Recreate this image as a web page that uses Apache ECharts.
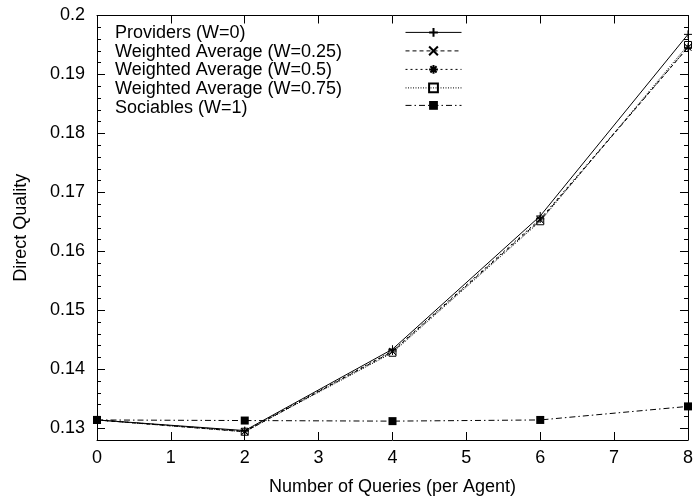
<!DOCTYPE html>
<html><head><meta charset="utf-8">
<script src="https://cdn.jsdelivr.net/npm/echarts@6/dist/echarts.min.js"></script>
<style>html,body{margin:0;padding:0;background:#fff}#c{width:696px;height:501px}</style>
</head><body><div id="c"></div>
<script>
const xValues = [0, 2, 4, 6, 8];
const providers = [0.1314, 0.1296, 0.1434, 0.1660, 0.1968];
const wa025 = [0.1314, 0.1294, 0.1430, 0.1653, 0.1946];
const wa05 = [0.1314, 0.1295, 0.1431, 0.1655, 0.1946];
const wa075 = [0.1314, 0.1294, 0.1428, 0.1651, 0.1950];
const sociables = [0.1314, 0.1313, 0.1312, 0.1314, 0.1337];
const seriesNames = ['Providers (W=0)', 'Weighted Average (W=0.25)', 'Weighted Average (W=0.5)', 'Weighted Average (W=0.75)', 'Sociables (W=1)'];
const yLabels = [0.13, 0.14, 0.15, 0.16, 0.17, 0.18, 0.19, 0.2];
const yMinor = [0.13,0.132,0.134,0.136,0.138,0.14,0.142,0.144,0.146,0.148,0.15,0.152,0.154,0.156,0.158,0.16,0.162,0.164,0.166,0.168,0.17,0.172,0.174,0.176,0.178,0.18,0.182,0.184,0.186,0.188,0.19,0.192,0.194,0.196,0.198];

const FONT = 'Liberation Sans, Arial, Helvetica, sans-serif';
const FS = 18;
const pair = arr => xValues.map((x, i) => [x, arr[i]]);

const plus = 'path://M0,5L10,5M5,0L5,10';
const cross = 'path://M1,1L9,9M9,1L1,9';
const star = 'path://M0,5L10,5M5,0L5,10M1.5,1.5L8.5,8.5M8.5,1.5L1.5,8.5';
const sq = 'path://M0,0L10,0L10,10L0,10Z';

function mk(name, arr, symbol, dash, filled, size) {
  return {
    name, type: 'line', data: pair(arr), symbol, symbolSize: size,
    showSymbol: true, animation: false,
    lineStyle: { color: '#000', width: 1, type: dash },
    itemStyle: filled ? { color: '#000', borderColor: '#000', borderWidth: 0 }
                      : { color: 'rgba(0,0,0,0)', borderColor: '#000', borderWidth: 1 },
    emphasis: { disabled: true },
    z: 3
  };
}

const series = [
  mk(seriesNames[0], providers, plus, 'solid', false, 8),
  mk(seriesNames[1], wa025, cross, [4, 3], false, 7),
  mk(seriesNames[2], wa05, star, [2, 3], false, 8),
  mk(seriesNames[3], wa075, sq, [1, 1.5], false, 7),
  mk(seriesNames[4], sociables, sq, [6, 3, 1.5, 3], true, 8)
];

const axLine = { show: true, lineStyle: { color: '#000', width: 1 } };
const yBase = { type: 'value', min: 0.128, max: 0.2, splitLine: { show: false } };

const option = {
  backgroundColor: '#fff',
  animation: false,
  grid: { left: 97, right: 5, top: 15.5, bottom: 60, containLabel: false },
  legend: [
    { orient: 'vertical', left: 105, top: 19, itemWidth: 0, itemHeight: 0, itemGap: 0.7,
      icon: 'none', data: seriesNames, selectedMode: false,
      textStyle: { fontFamily: FONT, fontSize: FS, color: '#000', lineHeight: 18 } },
    { orient: 'vertical', left: 400, top: 22, itemWidth: 56, itemHeight: 11, itemGap: 7.7,
      data: seriesNames, selectedMode: false, formatter: () => '',
      lineStyle: { width: 1 },
      textStyle: { fontSize: 8, lineHeight: 8 } }
  ],
  xAxis: [
    { type: 'value', min: 0, max: 8, interval: 1, position: 'bottom',
      name: 'Number of Queries (per Agent)', nameLocation: 'middle', nameGap: 38,
      nameTextStyle: { fontFamily: FONT, fontSize: FS, color: '#000' },
      axisLine: axLine, splitLine: { show: false },
      axisTick: { show: true, inside: true, length: 8, lineStyle: { color: '#000' } },
      axisLabel: { fontFamily: FONT, fontSize: FS, color: '#000', margin: 9 } },
    { type: 'value', min: 0, max: 8, interval: 1, position: 'top',
      axisLine: axLine, splitLine: { show: false },
      axisTick: { show: true, inside: true, length: 8, lineStyle: { color: '#000' } },
      axisLabel: { show: false } }
  ],
  yAxis: [
    Object.assign({}, yBase, { position: 'left',
      name: 'Direct Quality', nameLocation: 'middle', nameGap: 67, nameRotate: 90,
      nameTextStyle: { fontFamily: FONT, fontSize: FS, color: '#000' },
      axisLine: axLine,
      axisTick: { show: true, inside: true, length: 8, customValues: yLabels, lineStyle: { color: '#000' } },
      axisLabel: { customValues: yLabels, fontFamily: FONT, fontSize: FS, color: '#000', margin: 12,
        formatter: v => String(+v.toFixed(2)) } }),
    Object.assign({}, yBase, { position: 'left', axisLine: { show: false },
      axisTick: { show: true, inside: true, length: 4, customValues: yMinor, lineStyle: { color: '#000' } },
      axisLabel: { show: false } }),
    Object.assign({}, yBase, { position: 'right', axisLine: axLine,
      axisTick: { show: true, inside: true, length: 8, customValues: yLabels, lineStyle: { color: '#000' } },
      axisLabel: { show: false } }),
    Object.assign({}, yBase, { position: 'right', axisLine: { show: false },
      axisTick: { show: true, inside: true, length: 4, customValues: yMinor, lineStyle: { color: '#000' } },
      axisLabel: { show: false } })
  ],
  series
};

const chart = echarts.init(document.getElementById('c'), null, { renderer: 'canvas' });
chart.setOption(option);
</script>
</body></html>
